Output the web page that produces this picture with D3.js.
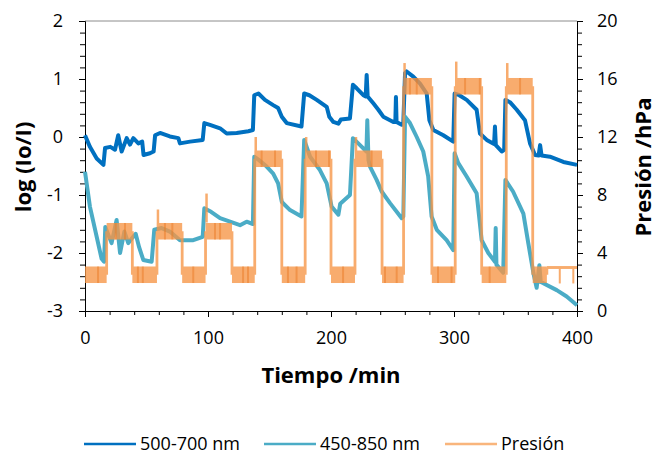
<!DOCTYPE html>
<html>
<head>
<meta charset="utf-8">
<script src="https://cdn.jsdelivr.net/npm/d3@7"></script>
<style>
  body { margin: 0; background: #fff; }
  svg text { font-family: "Open Sans", "Noto Sans", sans-serif; fill: #000; }
</style>
</head>
<body>
<svg class="chart"></svg>
<script>
// ---- data ----
// 500-700 nm absorbance (left axis)
var blueT = [0, 4, 9.5, 15, 16.3, 20.6, 24.4, 27, 29.8, 33.9, 36.6, 39.3, 43.4, 46.5, 47.6, 52.8, 55.8, 57, 61, 69, 75.9, 77.2, 85.4, 95.7, 97, 101.6, 109.8, 115.2, 123.3, 132.8, 136.5, 137.6, 141, 146.3, 153, 157, 160, 164, 176, 178.2, 182.4, 188.4, 196.5, 198.6, 201.9, 206, 208, 215.4, 217.8, 220.9, 226.3, 228.2, 229, 229.8, 234.4, 238.5, 242.5, 250.7, 252.3, 252.8, 253.3, 257.5, 258.8, 260.2, 261.5, 266.9, 272.4, 277.8, 280, 283.2, 291.3, 299.4, 300.5, 304.3, 310.3, 318.4, 321.1, 326.6, 332.6, 333.3, 334, 338.8, 340.8, 341.8, 345.5, 351, 357.7, 361.8, 365.9, 368.8, 370, 371.2, 378, 388.9, 400];
var blueV = [0.03, -0.17, -0.37, -0.48, -0.19, -0.17, -0.22, 0.03, -0.25, -0.02, -0.13, -0.02, -0.11, -0.08, -0.31, -0.28, -0.25, 0.03, 0.07, 0.01, -0.02, -0.11, -0.08, -0.05, 0.24, 0.21, 0.15, 0.06, 0.07, 0.10, 0.12, 0.72, 0.75, 0.64, 0.55, 0.50, 0.35, 0.24, 0.18, 0.75, 0.72, 0.64, 0.52, 0.35, 0.26, 0.23, 0.30, 0.32, 0.90, 0.84, 0.72, 0.70, 1.07, 0.70, 0.58, 0.47, 0.35, 0.26, 0.26, 0.69, 0.26, 0.21, 0.24, 1.10, 1.13, 1.04, 0.92, 0.75, 0.29, 0.12, 0.03, -0.08, 0.75, 0.72, 0.64, 0.47, 0.06, -0.05, -0.12, 0.18, -0.14, -0.25, -0.22, 0.64, 0.60, 0.47, 0.29, -0.11, -0.31, -0.32, -0.14, -0.32, -0.34, -0.43, -0.48];

// 450-850 nm absorbance (left axis)
var cyanT = [0, 4, 9.5, 13.5, 15.5, 16.5, 21.6, 25.7, 28.5, 32, 35.2, 38, 41.2, 44, 47.4, 54.2, 56.3, 62.3, 69, 77.2, 88, 95.7, 97, 102.5, 109.8, 117.9, 126, 131.4, 136.5, 137.6, 141, 147.7, 153, 157, 160, 166.7, 176, 178.2, 183, 191, 196.5, 200.5, 206, 207.5, 215.4, 217.8, 223.6, 228.8, 229.5, 230.5, 231.7, 237.1, 241.2, 248, 257.5, 258.8, 260.2, 264.2, 269.7, 275, 279, 281.8, 286, 294, 299.4, 300.5, 303.5, 310.3, 318.4, 322.5, 327.9, 333.3, 333.9, 334.5, 340, 341.8, 348, 356.4, 360.4, 364.5, 367.2, 369.4, 370.5, 372.6, 383.5, 391.6, 400];
var cyanV = [-0.6, -1.2, -1.72, -2.1, -2.15, -1.55, -1.83, -1.43, -2.0, -1.63, -1.83, -1.75, -1.67, -1.9, -2.12, -2.15, -1.6, -1.57, -1.63, -1.78, -1.78, -1.72, -1.23, -1.29, -1.40, -1.46, -1.52, -1.46, -1.50, -0.34, -0.39, -0.51, -0.63, -0.80, -1.12, -1.26, -1.37, -0.05, -0.34, -0.57, -0.80, -1.20, -1.34, -1.15, -1.00, -0.02, -0.14, -0.25, 0.29, -0.40, -0.51, -0.74, -0.94, -1.14, -1.40, -1.37, 0.35, 0.24, 0.00, -0.25, -0.68, -1.37, -1.60, -1.78, -1.95, -0.28, -0.45, -0.68, -0.97, -1.78, -2.00, -2.15, -1.57, -2.20, -2.34, -0.74, -0.94, -1.32, -1.83, -2.34, -2.60, -2.21, -2.50, -2.52, -2.64, -2.75, -2.90];

// pressure (right axis): step boundaries, plateau level, plateau noise half-width
var presT = [0, 17.6, 38.5, 58.5, 79, 98, 119.5, 138, 160, 179, 200, 219.5, 241.5, 259, 282, 301, 322.5, 342.5, 364, 375.5, 400];
var presP = [2.5, 5.5, 2.5, 5.5, 2.5, 5.5, 2.5, 10.5, 2.5, 10.5, 2.5, 10.5, 2.5, 15.5, 2.5, 15.5, 2.5, 15.5, 2.5, 3.0];
var presNoise = [0.57, 0.57, 0.57, 0.57, 0.57, 0.57, 0.57, 0.57, 0.57, 0.57, 0.57, 0.57, 0.57, 0.57, 0.57, 0.57, 0.57, 0.57, 0.57, 0.1];
// overshoot spikes when the pressure is raised
var spikeT = [58.5, 98, 138, 179, 219.5, 259, 301, 342.5];
var spikeP = [7.0, 8.1, 12.0, 12.0, 12.0, 17.1, 17.2, 17.1];
// darker streaks inside the plateaus, short dips at the end
var streakT = [10.6, 25, 32.5, 43, 47, 65, 71, 88, 105.7, 109.8, 128.5, 132.5, 143.6, 154.5, 165, 172, 187.8, 198.4, 209.8, 233, 243.9, 253.4, 264.2, 269.7, 287, 298, 309, 321, 329, 353.7];
var dipT = [386, 397];
var dipP = 1.9;

var xTicks = [0, 100, 200, 300, 400];
var leftTicks = [-3, -2, -1, 0, 1, 2];
var rightTicks = [0, 4, 8, 12, 16, 20];

var legendNames = ["500-700 nm", "450-850 nm", "Presión"];
var colors = ["#0070C0", "#4BACC6", "#F79646"];

// ---- layout ----
var W = 656, H = 455;
var margin = {top: 21, right: 79, bottom: 144, left: 85};
var width = W - margin.left - margin.right,
  height = H - margin.top - margin.bottom;

var svg = d3.select(".chart").attr("width", W).attr("height", H);

var x = d3.scaleLinear().domain([0, 400]).range([margin.left, margin.left + width]);
var yL = d3.scaleLinear().domain([-3, 2]).range([margin.top + height, margin.top]);
var yR = d3.scaleLinear().domain([0, 20]).range([margin.top + height, margin.top]);

// top border of the plot area
svg.append("line")
  .attr("x1", x(0)).attr("x2", x(400))
  .attr("y1", yL(2)).attr("y2", yL(2))
  .attr("stroke", "#8c8c8c").attr("stroke-width", 1);

// ---- axes ----
function styleAxis(g) {
  g.selectAll(".domain").attr("stroke", "#000");
  g.selectAll(".tick line").attr("stroke", "#000");
  g.selectAll(".tick text").style("font-size", "18px").attr("fill", "#111");
}

svg.append("g")
  .attr("transform", "translate(0," + yL(-3) + ")")
  .call(d3.axisBottom(x).tickValues(d3.range(0, 401, 20)).tickFormat("").tickSize(4).tickSizeOuter(0))
  .call(styleAxis);
svg.append("g")
  .attr("transform", "translate(0," + yL(-3) + ")")
  .call(d3.axisBottom(x).tickValues(xTicks).tickSize(6).tickPadding(14).tickSizeOuter(0))
  .call(styleAxis);

svg.append("g")
  .attr("transform", "translate(" + x(0) + ",0)")
  .call(d3.axisLeft(yL).tickValues(d3.range(-3, 2.01, 0.2)).tickFormat("").tickSize(5).tickSizeOuter(0))
  .call(styleAxis);
svg.append("g")
  .attr("transform", "translate(" + x(0) + ",0)")
  .call(d3.axisLeft(yL).tickValues(leftTicks).tickSize(6).tickPadding(16).tickSizeOuter(0)
    .tickFormat(function(d) { return d < 0 ? "-" + Math.abs(d) : d; }))
  .call(styleAxis);

svg.append("g")
  .attr("transform", "translate(" + x(400) + ",0)")
  .call(d3.axisRight(yR).tickValues(d3.range(0, 20.01, 0.8)).tickFormat("").tickSize(5).tickSizeOuter(0))
  .call(styleAxis);
svg.append("g")
  .attr("transform", "translate(" + x(400) + ",0)")
  .call(d3.axisRight(yR).tickValues(rightTicks).tickSize(6).tickPadding(14).tickSizeOuter(0))
  .call(styleAxis);

// axis titles
svg.append("text")
  .attr("x", (x(0) + x(400)) / 2).attr("y", 383)
  .attr("text-anchor", "middle")
  .style("font-size", "22px").style("font-weight", "bold")
  .text("Tiempo /min");
svg.append("text")
  .attr("transform", "translate(31,167) rotate(-90)")
  .attr("text-anchor", "middle")
  .style("font-size", "22px").style("font-weight", "bold")
  .text("log (Io/I)");
svg.append("text")
  .attr("transform", "translate(651,167) rotate(-90)")
  .attr("text-anchor", "middle")
  .style("font-size", "22px").style("font-weight", "bold")
  .text("Presión /hPa");

// ---- absorbance lines ----
var lineL = d3.line()
  .x(function(d) { return x(d[0]); })
  .y(function(d) { return yL(d[1]); });

svg.append("path")
  .datum(blueT.map(function(t, i) { return [t, blueV[i]]; }))
  .attr("d", lineL)
  .attr("fill", "none").attr("stroke", colors[0])
  .attr("stroke-width", 4).attr("stroke-linejoin", "round");

svg.append("path")
  .datum(cyanT.map(function(t, i) { return [t, cyanV[i]]; }))
  .attr("d", lineL)
  .attr("fill", "none").attr("stroke", colors[1])
  .attr("stroke-width", 4).attr("stroke-linejoin", "round");

// ---- pressure, drawn semi transparent on top ----
var pres = svg.append("g").attr("opacity", 0.78);
var segs = presP.map(function(p, i) {
  return {t0: presT[i], t1: presT[i + 1], p: p, n: presNoise[i]};
});

pres.selectAll("rect.band")
  .data(segs)
  .enter().append("rect")
    .attr("class", "band")
    .attr("x", function(d) { return x(d.t0); })
    .attr("width", function(d) { return x(d.t1) - x(d.t0); })
    .attr("y", function(d) { return yR(d.p + d.n); })
    .attr("height", function(d) { return yR(d.p - d.n) - yR(d.p + d.n); })
    .attr("fill", colors[2]);

// vertical transitions between plateaus
pres.selectAll("line.step")
  .data(segs.slice(1))
  .enter().append("line")
    .attr("class", "step")
    .attr("x1", function(d) { return x(d.t0); })
    .attr("x2", function(d) { return x(d.t0); })
    .attr("y1", function(d, i) { return yR(segs[i].p); })
    .attr("y2", function(d) { return yR(d.p); })
    .attr("stroke", colors[2]).attr("stroke-width", 2.8);

pres.selectAll("line.spike")
  .data(spikeT)
  .enter().append("line")
    .attr("class", "spike")
    .attr("x1", function(d) { return x(d) + 1; })
    .attr("x2", function(d) { return x(d) + 1; })
    .attr("y1", function(d, i) { return yR(spikeP[i]); })
    .attr("y2", function(d, i) { return yR(spikeP[i] - 2); })
    .attr("stroke", colors[2]).attr("stroke-width", 2.5);

pres.selectAll("line.dip")
  .data(dipT)
  .enter().append("line")
    .attr("class", "dip")
    .attr("x1", function(d) { return x(d); })
    .attr("x2", function(d) { return x(d); })
    .attr("y1", yR(3.0)).attr("y2", yR(dipP))
    .attr("stroke", colors[2]).attr("stroke-width", 2);

// darker streaks = places where the noisy trace overlaps itself
function segAt(t) {
  for (var i = 0; i < segs.length; i++) {
    if (t >= segs[i].t0 && t < segs[i].t1) return segs[i];
  }
  return segs[segs.length - 1];
}
var streaks = svg.append("g").attr("opacity", 0.45);
streaks.selectAll("line")
  .data(streakT)
  .enter().append("line")
    .attr("x1", function(d) { return x(d); })
    .attr("x2", function(d) { return x(d); })
    .attr("y1", function(d) { var s = segAt(d); return yR(s.p + s.n); })
    .attr("y2", function(d) { var s = segAt(d); return yR(s.p - s.n); })
    .attr("stroke", "#E9771F").attr("stroke-width", 2);

// ---- legend ----
var legX = [84, 264, 445];
var legend = svg.append("g").attr("class", "legend");
legendNames.forEach(function(name, i) {
  legend.append("line")
    .attr("x1", legX[i]).attr("x2", legX[i] + 52)
    .attr("y1", 444).attr("y2", 444)
    .attr("stroke", colors[i]).attr("stroke-width", 2.5)
    .attr("opacity", i == 2 ? 0.7 : 1);
  legend.append("text")
    .attr("x", legX[i] + 56).attr("y", 444)
    .attr("dy", "0.35em")
    .style("font-size", "18px")
    .text(name);
});
</script>
</body>
</html>
